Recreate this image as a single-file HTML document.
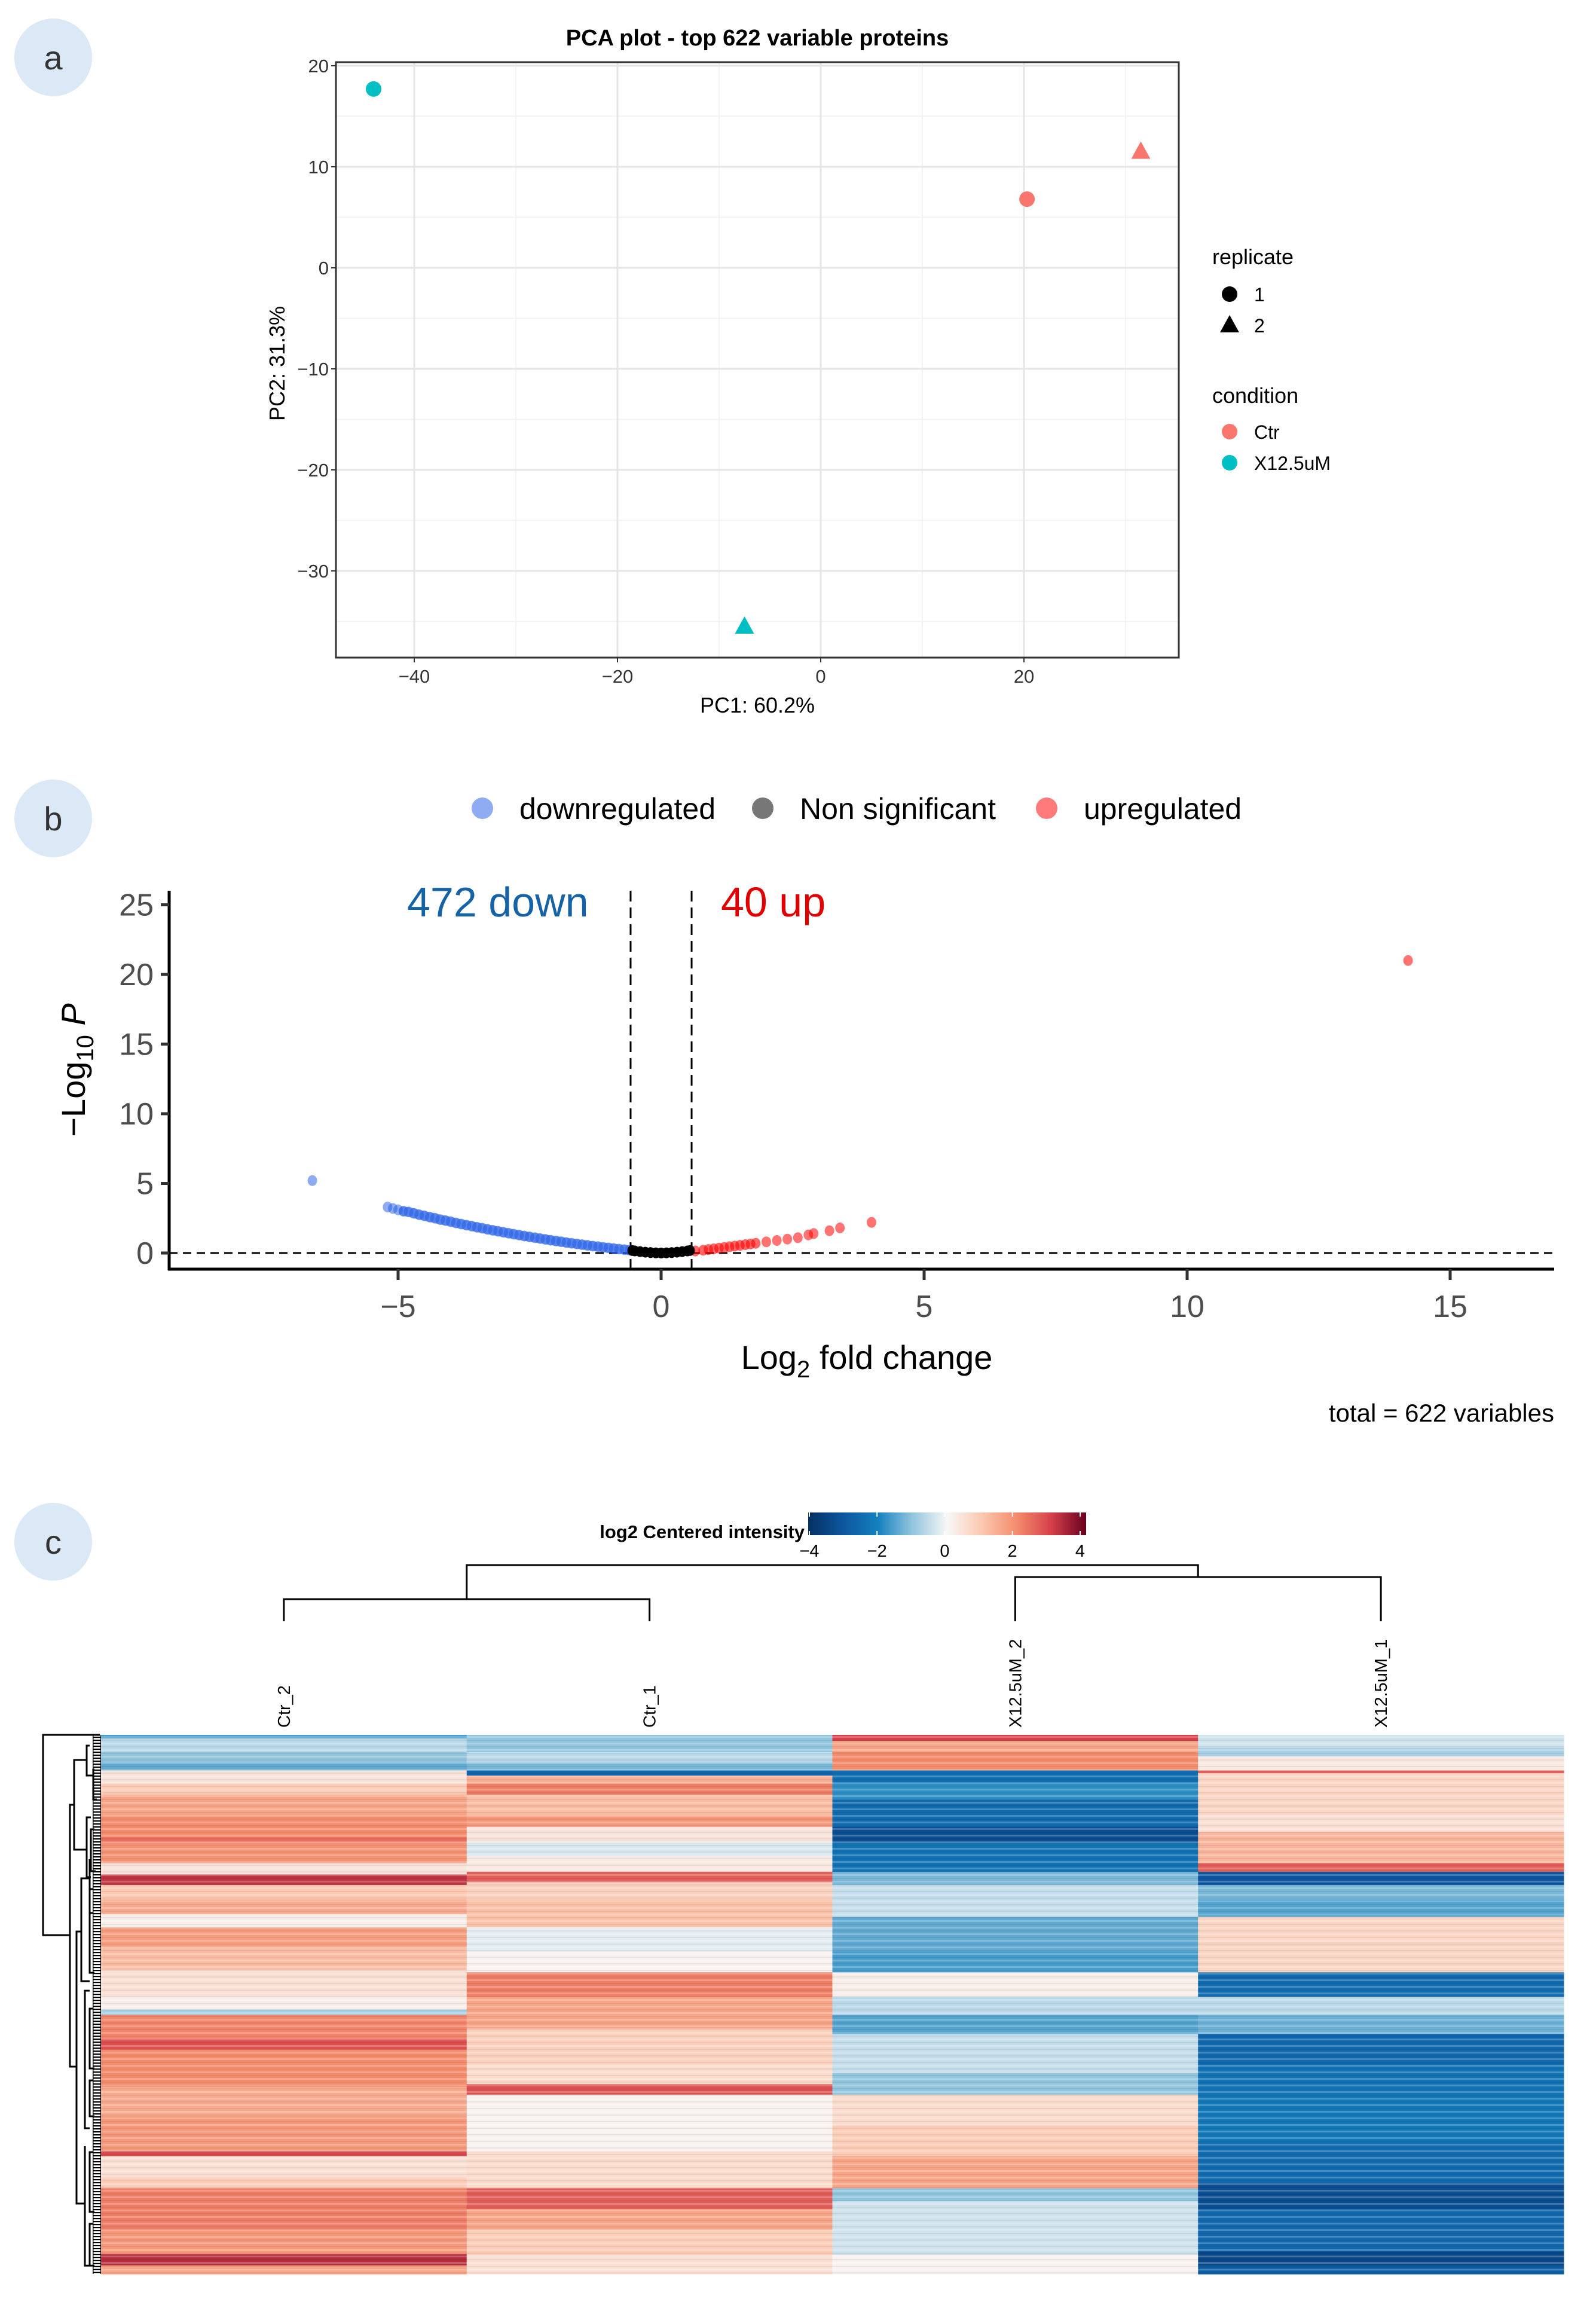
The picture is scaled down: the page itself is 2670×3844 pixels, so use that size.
<!DOCTYPE html>
<html><head><meta charset="utf-8"><style>
html,body{margin:0;padding:0;background:#fff;}
svg{display:block;font-family:"Liberation Sans",Arial,sans-serif;}
</style></head><body>
<svg id="fig" width="2670" height="3844" viewBox="0 0 2670 3844" xmlns="http://www.w3.org/2000/svg">
<rect width="2670" height="3844" fill="#fff"/>
<g><circle cx="89" cy="96" r="65" fill="#dbe9f6"/><text x="89" y="116" font-size="56" text-anchor="middle" fill="#333">a</text></g>
<g><circle cx="89" cy="1369" r="65" fill="#dbe9f6"/><text x="89" y="1389" font-size="56" text-anchor="middle" fill="#333">b</text></g>
<g><circle cx="89" cy="2579" r="65" fill="#dbe9f6"/><text x="89" y="2599" font-size="56" text-anchor="middle" fill="#333">c</text></g>

<g id="pca"></g>
<g id="volcano"></g>
<g id="heat"></g>
</svg>
<script>
const NS="http://www.w3.org/2000/svg";
function mk(parent,tag,attrs,text){const e=document.createElementNS(NS,tag);for(const k in attrs)e.setAttribute(k,attrs[k]);if(text!==undefined)e.textContent=text;parent.appendChild(e);return e;}

/* ---------- PCA data ---------- */
const pcaSamples=["X12.5uM_1","Ctr_2","Ctr_1","X12.5uM_2"];
const pcaPC1=[-44,31.5,20.3,-7.5];
const pcaPC2=[17.7,11.5,6.8,-35.5];
const pcaCondition=["X12.5uM","Ctr","Ctr","X12.5uM"];
const pcaReplicate=[1,2,1,2];
const pcaXTicks=[-40,-20,0,20];
const pcaYTicks=[20,10,0,-10,-20,-30];

/* ---------- Volcano data ---------- */
const downX=[-6.63,-5.2,-5.1,-5.0,-4.9,-4.8,-4.7,-4.6,-4.5,-4.4,-4.3,-4.2,-4.1,-4.0,-3.9,-3.8,-3.7,-3.6,-3.5,-3.4,-3.3,-3.2,-3.1,-3.0,-2.9,-2.8,-2.7,-2.6,-2.5,-2.4,-2.3,-2.2,-2.1,-2.0,-1.9,-1.8,-1.7,-1.6,-1.5,-1.4,-1.3,-1.2,-1.1,-1.0,-0.9,-0.8,-0.7,-0.6];
const downY=[5.2,3.3,3.2,3.1,3.0,2.95,2.85,2.75,2.67,2.58,2.5,2.4,2.33,2.25,2.16,2.08,2.0,1.93,1.85,1.78,1.7,1.63,1.56,1.49,1.42,1.35,1.29,1.22,1.16,1.1,1.04,0.98,0.92,0.86,0.81,0.75,0.7,0.65,0.6,0.55,0.5,0.46,0.41,0.37,0.32,0.28,0.24,0.2];
const nsX=[-0.55,-0.5,-0.4,-0.3,-0.2,-0.1,0,0.1,0.2,0.3,0.4,0.5,0.55];
const nsY=[0.18,0.15,0.1,0.06,0.03,0.01,0,0.01,0.03,0.06,0.1,0.15,0.18];
const upX=[0.65,0.8,0.9,1.0,1.1,1.2,1.3,1.4,1.5,1.6,1.7,1.8,2.0,2.2,2.4,2.6,2.8,2.9,3.2,3.4,4.0,14.2];
const upY=[0.15,0.2,0.25,0.3,0.35,0.4,0.45,0.5,0.55,0.6,0.65,0.7,0.8,0.9,1.0,1.1,1.3,1.4,1.6,1.8,2.2,21.0];
const volXTicks=[-5,0,5,10,15];
const volYTicks=[0,5,10,15,20,25];
const fcCut=[-0.58,0.58];

/* ---------- Heatmap data: [startRow, log2 centered value] per column ---------- */
const heatColumns=["Ctr_2","Ctr_1","X12.5uM_2","X12.5uM_1"];
const nRows=622;
const colCtr2=[[0,-1.6],[4,-0.6],[20,-1.0],[32,-1.4],[41,0.4],[56,0.9],[69,1.6],[93,2.0],[118,2.4],[124,1.9],[148,0.4],[161,3.2],[173,1.0],[190,1.5],[207,0.2],[222,1.7],[245,1.2],[271,0.5],[302,0.2],[317,-0.8],[323,2.1],[351,2.8],[363,2.0],[406,1.5],[440,1.8],[480,2.9],[486,0.5],[510,0.9],[523,2.2],[571,1.8],[599,3.3],[612,1.6]];
const colCtr1=[[0,-1.0],[20,-0.6],[32,-1.2],[41,-2.6],[47,1.4],[56,2.2],[69,1.2],[93,1.8],[106,0.4],[124,-0.3],[140,0.3],[158,2.6],[170,0.8],[190,1.1],[222,-0.2],[250,0.1],[274,2.2],[302,1.6],[339,0.8],[380,0.6],[403,2.8],[415,0.1],[480,0.6],[523,2.6],[547,1.6],[571,0.9],[600,0.5]];
const colX2=[[0,3.0],[7,1.6],[20,2.0],[41,-2.4],[56,-1.8],[75,-2.5],[106,-3.2],[124,-2.3],[158,-1.2],[173,-0.5],[210,-1.4],[250,-1.6],[274,0.2],[302,-0.6],[323,-1.5],[345,-0.5],[390,-1.0],[415,0.6],[450,0.9],[486,1.6],[523,-1.0],[538,-0.4],[600,0.1]];
const colX1=[[0,-0.4],[15,-0.8],[25,0.3],[41,2.6],[44,0.7],[93,0.5],[112,1.3],[148,2.6],[158,-3.0],[173,-1.2],[190,-1.5],[210,0.7],[274,-2.5],[302,-0.6],[323,-1.3],[345,-2.6],[380,-2.3],[418,-2.2],[470,-2.5],[517,-3.2],[547,-2.6],[596,-3.4],[612,-2.8]];
const scaleTicks=[-4,-2,0,2,4];

/* ================= PCA ================= */
(function(){
const g=document.getElementById('pca');
const L=562,R=1972,T=104,B=1100;
const xs=v=>1373+v*17, ys=v=>448-v*16.9;
mk(g,'rect',{x:L,y:T,width:R-L,height:B-T,fill:'#fff'});
[-30,-10,10,30].forEach(v=>{mk(g,'line',{x1:xs(v),x2:xs(v),y1:T,y2:B,stroke:'#f3f3f3','stroke-width':2});});
[15,5,-5,-15,-25,-35].forEach(v=>{mk(g,'line',{x1:L,x2:R,y1:ys(v),y2:ys(v),stroke:'#f3f3f3','stroke-width':2});});
pcaXTicks.forEach(v=>{const l=mk(g,'line',{x1:xs(v),x2:xs(v),y1:T,y2:B,stroke:'#e6e6e6','stroke-width':3});
 mk(g,'line',{x1:xs(v),x2:xs(v),y1:B,y2:B+8,stroke:'#333','stroke-width':2});
 const t=mk(g,'text',{x:xs(v),y:B+42,'font-size':31,'text-anchor':'middle',fill:'#333'},String(v).replace('-','\u2212'));});
pcaYTicks.forEach(v=>{mk(g,'line',{x1:L,x2:R,y1:ys(v),y2:ys(v),stroke:'#e6e6e6','stroke-width':3});
 mk(g,'line',{x1:L-8,x2:L,y1:ys(v),y2:ys(v),stroke:'#333','stroke-width':2});
 const t=mk(g,'text',{x:L-12,y:ys(v)+11,'font-size':31,'text-anchor':'end',fill:'#333'},String(v).replace('-','\u2212'));});
mk(g,'rect',{x:L,y:T,width:R-L,height:B-T,fill:'none',stroke:'#333','stroke-width':3});
const tt=mk(g,'text',{x:1267,y:76,'font-size':38,'font-weight':'bold','text-anchor':'middle',fill:'#000'},'PCA plot - top 622 variable proteins');

const xl=mk(g,'text',{x:1267,y:1192,'font-size':36,'text-anchor':'middle',fill:'#000'},'PC1: 60.2%');

const yl=mk(g,'text',{x:0,y:0,'font-size':36,'text-anchor':'middle',fill:'#000',transform:'translate(476,608) rotate(-90)'},'PC2: 31.3%');

const col={"Ctr":"#F8766D","X12.5uM":"#00BFC4"};
function sym(x,y,rep,fill){if(rep===1)return mk(g,'circle',{cx:x,cy:y,r:13,fill:fill});return mk(g,'path',{d:`M${x},${y-17} L${x+16},${y+12} L${x-16},${y+12} Z`,fill:fill});}
pcaPC1.forEach((v,i)=>{const s=sym(xs(v),ys(pcaPC2[i]),pcaReplicate[i],col[pcaCondition[i]]);});
// legend
mk(g,'text',{x:2028,y:442,'font-size':36,fill:'#000'},'replicate');
sym(2057,492,1,'#000');mk(g,'text',{x:2098,y:504,'font-size':32,fill:'#000'},'1');
sym(2057,544,2,'#000');mk(g,'text',{x:2098,y:556,'font-size':32,fill:'#000'},'2');
mk(g,'text',{x:2028,y:674,'font-size':36,fill:'#000'},'condition');
mk(g,'circle',{cx:2057,cy:722,r:13,fill:col.Ctr});mk(g,'text',{x:2098,y:734,'font-size':32,fill:'#000'},'Ctr');
mk(g,'circle',{cx:2057,cy:774,r:13,fill:col["X12.5uM"]});mk(g,'text',{x:2098,y:786,'font-size':32,fill:'#000'},'X12.5uM');
})();

/* ================= Volcano ================= */
(function(){
const g=document.getElementById('volcano');
const L=283,R=2600,AX=2123,TOP=1490;
const xs=v=>1106+v*88, ys=v=>2096-v*23.3;
[["downregulated",807,"#8fabf2"],["Non significant",1276,"#777"],["upregulated",1751,"#ff7b7b"]].forEach(d=>{
 const c=mk(g,'circle',{cx:d[1],cy:1352,r:18,fill:d[2]});
 const t=mk(g,'text',{x:d[1]+62,y:1370,'font-size':50,fill:'#000'},d[0]);});
mk(g,'line',{x1:L,x2:L,y1:TOP,y2:AX+2,stroke:'#000','stroke-width':5});
mk(g,'line',{x1:L-2,x2:R,y1:AX,y2:AX,stroke:'#000','stroke-width':5});
volYTicks.forEach(v=>{mk(g,'line',{x1:L-14,x2:L,y1:ys(v),y2:ys(v),stroke:'#333','stroke-width':5});
 const t=mk(g,'text',{x:L-26,y:ys(v)+18,'font-size':52,'text-anchor':'end',fill:'#4d4d4d'},String(v));});
volXTicks.forEach(v=>{mk(g,'line',{x1:xs(v),x2:xs(v),y1:AX,y2:AX+18,stroke:'#333','stroke-width':5});
 const t=mk(g,'text',{x:xs(v),y:2203,'font-size':52,'text-anchor':'middle',fill:'#4d4d4d'},String(v).replace('-','\u2212'));});
fcCut.forEach(v=>{const l=mk(g,'line',{x1:xs(v),x2:xs(v),y1:TOP,y2:AX,stroke:'#000','stroke-width':3,'stroke-dasharray':'18,10'});});
const hl=mk(g,'line',{x1:L,x2:R,y1:ys(0),y2:ys(0),stroke:'#000','stroke-width':3,'stroke-dasharray':'14,9'});

function series(X,Y,color,op,name,band){
 if(band){let d='';X.forEach((x,i)=>{if(i<band)return;d+=(d?'L':'M')+xs(x)+','+ys(Y[i]);});
  mk(g,'path',{d:d,fill:'none',stroke:color,'stroke-width':16,'stroke-linecap':'round','opacity':op});}
 X.forEach((x,i)=>{const c=mk(g,'ellipse',{cx:xs(x),cy:ys(Y[i]),rx:8,ry:9,fill:color,opacity:op});});
}
series(downX,downY,'#1f5ae6',0.5,'down-point',4);
series(upX.slice(0,12),upY.slice(0,12),'#ff0000',0.6,'up-point',0);
series(upX.slice(12),upY.slice(12),'#ff0000',0.55,'up-point',0);
series(nsX,nsY,'#000',1,'ns-point',0);
const a=mk(g,'text',{x:681,y:1533,'font-size':70,fill:'#1662a6'},'472 down');
const b=mk(g,'text',{x:1206,y:1533,'font-size':70,fill:'#e00000'},'40 up');
const xt=mk(g,'text',{x:1450,y:2290,'font-size':56,'text-anchor':'middle',fill:'#000'});
xt.innerHTML='Log<tspan dy="14" font-size="40">2</tspan><tspan dy="-14"> fold change</tspan>';
const yt=mk(g,'text',{x:0,y:0,'font-size':56,'text-anchor':'middle',fill:'#000',transform:'translate(142,1790) rotate(-90)'});
yt.innerHTML='\u2212Log<tspan dy="14" font-size="40">10</tspan><tspan dy="-14" font-style="italic"> P</tspan>';
const tot=mk(g,'text',{x:2600,y:2378,'font-size':42,'text-anchor':'end',fill:'#000'},'total = 622 variables');
})();

/* ================= Heatmap ================= */
(function(){
const g=document.getElementById('heat');
const L=169,R=2616,T=2902,B=3804;
const cw=(R-L)/4, rh=(B-T)/nRows;
const stops=[[-4,[5,48,97]],[-3,[13,86,158]],[-2,[20,128,190]],[-1,[146,197,222]],[0,[247,247,247]],[1,[252,200,176]],[2,[244,140,108]],[3,[214,64,74]],[4,[103,0,31]]];
function color(v){v=Math.max(-4,Math.min(4,v));for(let i=0;i<stops.length-1;i++){const a=stops[i],b=stops[i+1];if(v<=b[0]){const t=(v-a[0])/(b[0]-a[0]);const c=a[1].map((x,k)=>Math.round(x+(b[1][k]-x)*t));return `rgb(${c})`;}}return 'rgb(103,0,31)';}
[colCtr2,colCtr1,colX2,colX1].forEach((bands,ci)=>{
 bands.forEach((bd,i)=>{const end=i<bands.length-1?bands[i+1][0]:nRows;
  const r=mk(g,'rect',{x:L+ci*cw,y:T+bd[0]*rh,width:cw+0.5,height:(end-bd[0])*rh+0.5,fill:color(bd[1])});
  });
});
const defs=mk(g,'defs',{});
const p=mk(defs,'pattern',{id:'stripes',width:10,height:11,patternUnits:'userSpaceOnUse'});
mk(p,'rect',{x:0,y:0,width:10,height:3,fill:'#fff',opacity:0.22});
mk(p,'rect',{x:0,y:6,width:10,height:2,fill:'#000',opacity:0.06});
mk(g,'rect',{x:L,y:T,width:R-L,height:B-T,fill:'url(#stripes)'});
heatColumns.forEach((n,i)=>{const cx=L+cw*(i+0.5);const t=mk(g,'text',{x:0,y:0,'font-size':29,fill:'#000',transform:`translate(${cx+10},2890) rotate(-90)`},n);});
const cx=i=>L+cw*(i+0.5);
const dg=mk(g,'g',{stroke:'#000','stroke-width':3,fill:'none'});
mk(dg,'path',{d:`M${cx(0)},2712 V2675 H${cx(1)} V2712`});
mk(dg,'path',{d:`M${cx(2)},2712 V2638 H${cx(3)} V2712`});
mk(dg,'path',{d:`M${(cx(0)+cx(1))/2},2675 V2618 H${(cx(2)+cx(3))/2} V2638`});
const rg=mk(g,'g',{stroke:'#000','stroke-width':3,fill:'none'});
const segs=["M167,2902 H72 V3237 H117","M124,3019 H117 V3457 H128","M145,2944 H124 V3094 H145","M136,3231 H128 V3686 H142","M150,3142 H136 V3314 H150","M150,2920 H145 V2970 H156","M152,3040 H145 V3140 H152","M150,3110 H150 V3200 H156","M142,3590 H142 V3790 H150","M150,3330 H142 V3560 H150","M156,3360 H150 V3460 H158","M156,3480 H150 V3540 H158","M156,3600 H150 V3700 H158","M156,3720 H150 V3790 H158","M156,3160 H150 V3300 H158","M158,2960 H156 V3010 H162","M158,3060 H152 V3130 H160"];
segs.forEach(d=>mk(rg,'path',{d:d}));
const lp=mk(defs,'pattern',{id:'leaves',width:14,height:5,patternUnits:'userSpaceOnUse'});
mk(lp,'rect',{x:0,y:0,width:14,height:2.2,fill:'#000'});
mk(lp,'rect',{x:0,y:0,width:2.5,height:5,fill:'#000'});
mk(g,'rect',{x:155,y:T,width:14,height:B-T,fill:'url(#leaves)'});
const grad=mk(defs,'linearGradient',{id:'rdbu',x1:0,x2:1,y1:0,y2:0});
stops.forEach(s=>mk(grad,'stop',{offset:((s[0]+4)/8),'stop-color':`rgb(${s[1]})`}));
const sb=mk(g,'rect',{x:1352,y:2530,width:465,height:38,fill:'url(#rdbu)'});
const sx=v=>1354+(v+4)/8*453;
scaleTicks.forEach(v=>{mk(g,'line',{x1:sx(v),x2:sx(v),y1:2530,y2:2537,stroke:'#fff','stroke-width':2});mk(g,'line',{x1:sx(v),x2:sx(v),y1:2561,y2:2568,stroke:'#fff','stroke-width':2});
 const t=mk(g,'text',{x:sx(v),y:2604,'font-size':29,'text-anchor':'middle',fill:'#000'},String(v).replace('-','\u2212'));});
const st=mk(g,'text',{x:1346,y:2573,'font-size':31,'font-weight':'bold','text-anchor':'end',fill:'#000'},'log2 Centered intensity');
})();
</script>
</body></html>
